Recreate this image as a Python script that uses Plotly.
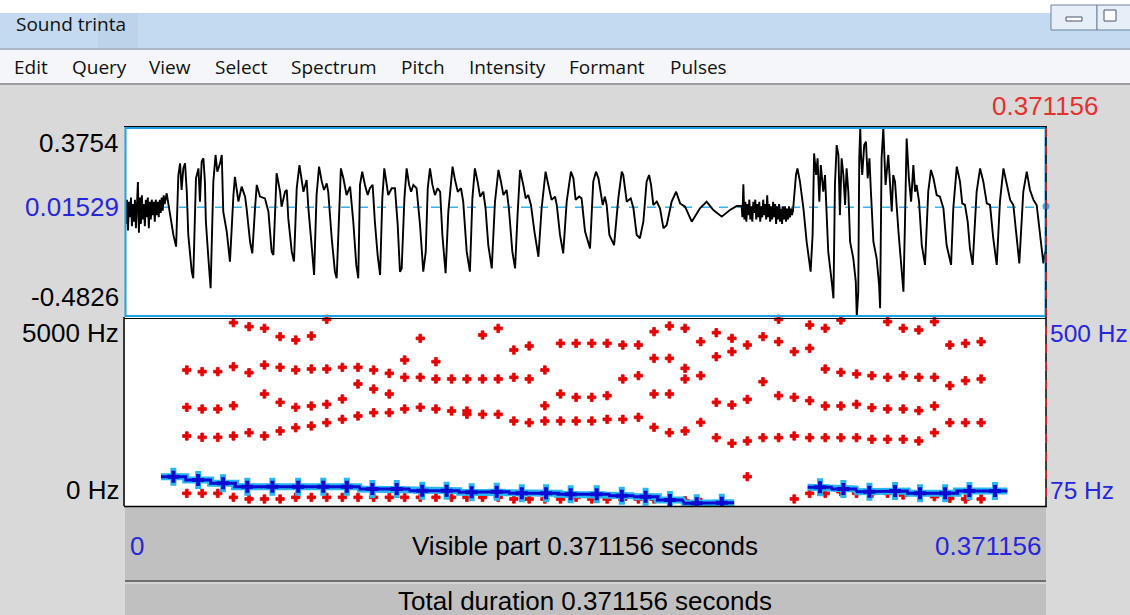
import plotly.graph_objects as go

W, H = 1130, 615
T_END = 0.371156          # seconds
AMP_MAX, AMP_MIN, AMP_MID = 0.3754, -0.4826, 0.01529
F_MAX = 5000
P_MIN, P_MAX = 75, 500

# ---------------- waveform (time in ms, amplitude) ----------------
wave_onset_noise = [
    (0.0, 0.02), (0.4, -0.06), (0.8, 0.05), (1.2, -0.09), (1.6, 0.04), (2.0, -0.03), (2.4, 0.06),
    (2.8, -0.07), (3.2, 0.03), (3.6, -0.05), (4.0, 0.05), (4.4, -0.08), (4.8, 0.02), (5.2, 0.13),
    (5.6, -0.10), (6.0, 0.06), (6.4, -0.06), (6.8, 0.07), (7.2, -0.04), (7.6, 0.03), (8.0, -0.07),
    (8.4, 0.05), (8.8, -0.03), (9.2, 0.06), (9.6, -0.08), (10.0, 0.04), (10.4, -0.04), (10.8, 0.05),
    (11.2, -0.02), (11.6, 0.04), (12.0, -0.05), (12.4, 0.05), (12.8, -0.02), (13.2, 0.04),
    (13.6, -0.03), (14.0, 0.05), (14.4, -0.01), (14.8, 0.06), (15.2, 0.0), (15.6, 0.07), (16.0, 0.03),
]
wave_vowel_1 = [
    (16.8, 0.079), (19.5, -0.110), (20.6, -0.163), (21.5, 0.162), (22.2, 0.215), (22.8, 0.094),
    (23.5, 0.192), (24.2, 0.215), (24.9, 0.086), (25.5, -0.110), (26.9, -0.277), (27.5, -0.307),
    (28.6, 0.147), (29.6, 0.192), (30.2, 0.041), (30.9, 0.223), (31.6, 0.238), (32.2, 0.132),
    (32.6, -0.050), (33.6, -0.216), (34.5, -0.352), (35.6, 0.132), (36.5, 0.253), (37.2, 0.177),
    (38.3, 0.215), (39.0, 0.253), (39.6, -0.004), (41.0, -0.095), (42.3, -0.231), (43.7, 0.071),
    (44.3, 0.154), (45.7, 0.041), (47.0, 0.109), (48.4, 0.064), (49.0, 0.011), (50.4, -0.141),
    (51.3, -0.194), (52.4, 0.011), (53.1, 0.117), (54.4, 0.064), (56.4, 0.056), (57.8, -0.004),
    (59.1, -0.186), (59.8, -0.201), (60.4, 0.011), (61.1, 0.170), (62.5, 0.086), (63.1, 0.018),
    (64.5, 0.086), (65.2, 0.094), (65.8, -0.035), (67.2, -0.186), (68.1, -0.231), (69.2, 0.102),
    (70.3, 0.207), (71.2, 0.147), (71.9, 0.086), (73.2, 0.139), (73.9, 0.011), (75.2, -0.156),
    (76.2, -0.292), (77.2, 0.071), (78.2, 0.200), (79.3, 0.132), (80.2, 0.094), (81.3, 0.124),
    (81.9, 0.086), (83.3, -0.125), (84.6, -0.277), (85.3, -0.307), (86.4, 0.086), (87.0, 0.192),
    (88.0, 0.147), (89.3, 0.071), (90.7, 0.109), (92.0, -0.050), (93.2, -0.246), (94.0, -0.307),
    (94.7, 0.117), (95.6, 0.177), (96.7, 0.117), (97.8, 0.071), (98.7, 0.102), (99.8, 0.117),
    (100.7, -0.050), (101.8, -0.201), (102.8, -0.292), (103.7, 0.056), (104.5, 0.192), (105.5, 0.117),
    (106.1, 0.071), (107.5, 0.102), (108.8, 0.102), (109.9, -0.065), (110.8, -0.277), (111.5, -0.262),
    (112.6, 0.056), (113.5, 0.192), (114.5, 0.117), (115.3, 0.086), (116.2, 0.117), (117.5, 0.102),
    (118.9, -0.065), (120.2, -0.277), (121.2, -0.186), (122.0, 0.102), (122.9, 0.192), (123.9, 0.117),
    (124.9, 0.071), (126.0, 0.102), (127.0, 0.086), (127.9, -0.110), (129.2, -0.284), (130.3, -0.004),
    (131.4, 0.132), (132.0, 0.200), (133.0, 0.139), (134.1, 0.086), (135.4, 0.102), (136.3, 0.041),
    (137.7, -0.186), (139.0, -0.277), (140.0, 0.056), (141.0, 0.192), (142.1, 0.132), (143.1, 0.064),
    (144.4, 0.086), (145.3, 0.011), (146.4, -0.156), (147.8, -0.262), (149.1, 0.041), (150.5, 0.185),
    (151.5, 0.132), (152.5, 0.071), (153.8, 0.094), (154.7, 0.011), (156.1, -0.186), (157.2, -0.262),
    (158.2, -0.020), (159.2, 0.185), (160.5, 0.117), (161.5, 0.056), (162.5, 0.071), (163.6, 0.026),
    (165.0, -0.095), (166.6, -0.209), (167.9, 0.011), (169.5, 0.177), (170.6, 0.117), (171.9, 0.049),
    (173.3, 0.064), (174.0, 0.026), (175.3, -0.110), (176.6, -0.194), (178.0, 0.041), (179.7, 0.177),
    (180.7, 0.147), (181.6, 0.049), (183.0, 0.064), (184.0, 0.056), (185.4, -0.095), (187.4, -0.171),
    (188.7, 0.132), (189.8, 0.177), (190.8, 0.147), (192.5, 0.026), (193.4, 0.064), (194.1, 0.026),
    (195.2, -0.110), (197.1, -0.156), (198.8, 0.056), (200.2, 0.177), (200.8, 0.162), (202.2, 0.041),
    (203.8, 0.056), (204.9, 0.011), (206.2, -0.110), (207.5, -0.125), (208.9, -0.050), (210.2, 0.132),
    (211.2, 0.162), (212.0, 0.117), (212.9, 0.026), (214.3, 0.041), (215.6, 0.011), (217.0, -0.080),
    (218.3, -0.065), (220.3, 0.041), (222.1, 0.086), (223.7, 0.033), (225.7, 0.018), (228.4, -0.050),
    (231.7, 0.011), (234.4, 0.041), (237.1, 0.003), (240.5, -0.027), (243.8, 0.003), (246.5, 0.021),
    (248.5, 0.021),
]
wave_mid_noise = [
    (248.8, -0.03), (249.2, 0.12), (249.6, -0.04), (250.0, 0.04), (250.4, -0.05), (250.8, 0.03),
    (251.2, -0.02), (251.6, 0.05), (252.0, -0.04), (252.4, 0.02), (252.8, -0.05), (253.2, 0.04),
    (253.6, -0.01), (254.0, 0.05), (254.4, -0.04), (254.8, 0.03), (255.2, -0.03), (255.6, 0.04),
    (256.0, -0.05), (256.4, 0.02), (256.8, -0.03), (257.2, 0.05), (257.6, -0.02), (258.0, 0.03),
    (258.4, -0.04), (258.8, 0.07), (259.2, -0.03), (259.6, 0.03), (260.0, -0.05), (260.4, 0.02),
    (260.8, -0.04), (261.2, 0.04), (261.6, -0.03), (262.0, 0.03), (262.4, -0.06), (262.8, 0.02),
    (263.2, -0.04), (263.6, 0.03), (264.0, -0.05), (264.4, 0.01), (264.8, -0.06), (265.2, 0.02),
    (265.6, -0.04), (266.0, 0.02), (266.4, -0.05), (266.8, 0.01), (267.2, -0.04), (267.6, 0.02),
    (268.0, -0.03), (268.4, 0.01), (268.8, -0.02), (269.2, 0.00),
]
wave_vowel_2 = [
    (270.4, 0.162), (271.0, 0.192), (272.0, 0.132), (273.4, 0.011), (274.7, -0.141), (276.3, -0.277),
    (277.1, -0.110), (277.7, 0.260), (278.5, 0.162), (279.1, 0.238), (279.8, 0.041), (280.4, 0.207),
    (281.4, 0.086), (282.1, 0.162), (283.4, -0.186), (284.8, -0.322), (285.5, -0.398), (286.1, 0.117),
    (286.8, 0.298), (287.5, 0.253), (288.1, -0.020), (288.8, 0.238), (289.5, 0.162), (290.2, 0.026),
    (290.8, 0.192), (291.5, 0.086), (292.2, -0.141), (293.5, -0.216), (294.5, -0.322), (294.9, -0.481),
    (295.5, -0.368), (295.9, 0.238), (296.3, 0.375), (296.6, 0.253), (297.1, 0.162), (297.9, 0.298),
    (298.6, 0.313), (299.3, 0.147), (300.0, 0.238), (300.6, 0.086), (301.6, -0.141), (302.9, -0.216),
    (303.9, -0.337), (304.3, -0.443), (304.9, 0.238), (305.6, 0.375), (306.0, 0.268), (306.5, 0.117),
    (307.6, 0.253), (308.3, 0.117), (309.0, -0.004), (309.6, 0.162), (310.3, 0.132), (311.7, -0.095),
    (312.7, -0.246), (313.7, -0.368), (314.3, -0.065), (315.0, 0.328), (315.9, 0.147), (316.8, 0.041),
    (317.7, 0.207), (318.4, 0.086), (319.0, 0.117), (320.0, 0.041), (321.1, -0.156), (322.4, -0.246),
    (323.7, 0.086), (324.8, 0.185), (325.8, 0.147), (327.1, 0.071), (328.4, 0.064), (329.8, 0.011),
    (331.1, -0.156), (332.9, -0.246), (333.8, 0.011), (335.2, 0.200), (336.5, 0.132), (337.4, 0.033),
    (338.5, 0.026), (339.6, -0.050), (340.5, -0.171), (341.6, -0.246), (343.2, 0.086), (344.6, 0.192),
    (345.9, 0.132), (347.3, 0.033), (348.6, 0.026), (349.9, -0.125), (351.3, -0.246), (352.6, 0.041),
    (354.0, 0.192), (355.3, 0.124), (356.7, 0.049), (358.0, 0.026), (359.3, -0.110), (360.4, -0.239),
    (362.0, 0.086), (363.4, 0.177), (364.7, 0.094), (366.1, 0.049), (367.4, 0.026), (368.7, -0.095),
    (370.1, -0.239), (370.8, -0.186),
]

# ---------------- formants (frame times in ms, Hz) ----------------
formant_t_ms = [
    24.9, 31.1, 37.4, 43.7, 50.0, 56.2, 62.5, 68.8, 75.1, 81.3,
    87.6, 93.9, 100.2, 106.5, 112.7, 119.0, 125.3, 131.6, 137.8, 144.1,
    150.4, 156.7, 162.9, 169.2, 175.5, 181.8, 188.1, 194.3, 200.6, 206.9,
    213.2, 219.4, 225.7, 232.0, 238.3, 244.6, 250.8, 257.1, 263.4, 269.7,
    275.9, 282.2, 288.5, 294.8, 301.0, 307.3, 313.6, 319.9, 326.2, 332.4,
    338.7, 345.0,
]
F1 = [335, 335, 335, 229, 185, 185, 185, 229, 229, 229,
      229, 229, 229, 229, 229, 229, 229, 229, 229, 229,
      229, 185, 185, 185, 185, 229, 185, 185, 185, 185,
      185, 185, 141, 97, None, None, 776, None, None, 185,
      335, 335, 379, 335, 335, 335, 291, 335, 247, 203,
      185, 185]
F2 = [1852, 1817, 1817, 1852, 1940, 1852, 1984, 2072, 2116, 2205,
      2293, 2381, 2469, 2469, 2566, 2610, 2566, 2513, 2425, 2425,
      2425, 2249, 2205, 2249, 2249, 2249, 2249, 2293, 2293, 2346,
      2081, 1940, 1984, 2213, 1808, 1658, 1720, 1808, 1808, 1852,
      1808, 1808, 1808, 1808, 1764, 1764, 1764, 1720, 1940, 2205,
      2205, 2205]
F3 = [2610, 2566, 2566, 2654, 3527, 2963, 2742, 2610, 2645, 2690,
      2831, 3227, 3095, 2963, 3404, 3404, 3360, 3360, 2513, 3360,
      3360, 3404, 3360, 2654, 2963, 2875, 2875, 2919, 3360, 3448,
      2963, 2963, 3360, 3448, 2742, 2672, 2822, 3289, 2919, 2875,
      2786, 2645, 2645, 2690, 2601, 2566, 2566, 2522, 2645, 3183,
      3316, 3360]
F4 = [3598, 3554, 3554, 3686, 4744, 3730, 3668, 3598, 3624, 3624,
      3668, 3668, 3598, 3510, 3862, 4435, 3818, None, 3360, 4524,
      4700, 4127, 4233, 3598, 4303, 4303, 4303, 4303, 4259, 4259,
      3906, 3906, 3642, 4347, 3950, 4083, 4259, 4480, 4347, 4083,
      4171, 3624, 3536, 3492, 3448, 3404, 3448, 3404, 3404, 4259,
      4303, 4347]
F5 = [None, None, None, 4850, None, 4700, 4480, 4391, 4497, 4938,
      None, None, None, None, None, None, None, None, None, None,
      None, None, None, 5026, None, None, None, None, None, None,
      4612, 4762, 4700, None, 4585, 4435, None, None, 4938, 5053,
      4788, 4700, 4920, None, None, 4876, 4700, 4656, 4876, None,
      None, None]

# ---------------- pitch (two voiced stretches; ms, Hz) ----------------
pitch1_t_ms = [19.5, 29.5, 39.5, 49.3, 59.4, 69.8, 79.9, 89.4, 99.7, 109.5, 119.8, 129.6,
               139.7, 149.8, 159.9, 169.7, 179.6, 190.1, 200.2, 209.8, 219.6, 230.4, 240.5]
pitch1_hz = [140.9, 133.5, 126.0, 118.4, 118.4, 118.4, 118.4, 118.4, 113.2, 113.2, 109.4, 109.4,
             105.8, 107.2, 103.6, 103.6, 101.3, 101.3, 98.2, 95.9, 88.5, 81.1, 82.4]
pitch2_t_ms = [280.1, 289.5, 300.0, 310.3, 320.4, 330.5, 340.3, 350.6]
pitch2_hz = [117.1, 113.2, 107.2, 108.7, 103.6, 103.6, 108.7, 108.7]
PITCH_STEP_MS = 10.0

# cursor value marker at the end of the waveform
cursor_amp = 0.02

# ---------------- helpers (layout positions only) ----------------
def px(x):
    return x / W


def py(y):
    return 1 - y / H


def join(*segs):
    xs, ys = [], []
    for s in segs:
        for t, a in s:
            xs.append(t / 1000.0)
            ys.append(a)
    return xs, ys


wx, wy = join(wave_onset_noise, wave_vowel_1, wave_mid_noise, wave_vowel_2)

# formant scatter
fx, fy = [], []
for series in (F1, F2, F3, F4, F5):
    for t, v in zip(formant_t_ms, series):
        if v is not None:
            fx.append(t / 1000.0)
            fy.append(v)

# pitch as per-frame horizontal steps
def steps(ts, vs):
    xs, ys = [], []
    for t, v in zip(ts, vs):
        xs += [(t - PITCH_STEP_MS / 2) / 1000.0, (t + PITCH_STEP_MS / 2) / 1000.0]
        ys += [v, v]
    return xs, ys


s1x, s1y = steps(pitch1_t_ms, pitch1_hz)
s2x, s2y = steps(pitch2_t_ms, pitch2_hz)
plx = s1x + [None] + s2x
ply = s1y + [None] + s2y
pmx = [t / 1000.0 for t in pitch1_t_ms + pitch2_t_ms]
pmy = pitch1_hz + pitch2_hz

fig = go.Figure()

fig.add_trace(go.Scatter(x=wx, y=wy, mode="lines", xaxis="x", yaxis="y",
                         line=dict(color="#000000", width=1.9), hoverinfo="skip"))
fig.add_trace(go.Scatter(x=[T_END], y=[cursor_amp], mode="markers", xaxis="x", yaxis="y",
                         marker=dict(color="#2ab0f0", size=7), cliponaxis=False, hoverinfo="skip"))

fig.add_trace(go.Scatter(x=fx, y=fy, mode="markers", xaxis="x2", yaxis="y2", cliponaxis=False,
                         marker=dict(symbol="cross", color="#e60000", size=7,
                                     line=dict(width=0.8, color="#e60000")),
                         hoverinfo="skip"))

fig.add_trace(go.Scatter(x=plx, y=ply, mode="lines", xaxis="x2", yaxis="y3",
                         line=dict(color="#29b6f2", width=7), connectgaps=False, hoverinfo="skip"))
fig.add_trace(go.Scatter(x=pmx, y=pmy, mode="markers", xaxis="x2", yaxis="y3",
                         marker=dict(symbol="cross", color="#29b6f2", size=15), hoverinfo="skip"))
fig.add_trace(go.Scatter(x=plx, y=ply, mode="lines", xaxis="x2", yaxis="y3",
                         line=dict(color="#0a0ad2", width=3), connectgaps=False, hoverinfo="skip"))
fig.add_trace(go.Scatter(x=pmx, y=pmy, mode="markers", xaxis="x2", yaxis="y3",
                         marker=dict(symbol="cross", color="#0a0ad2", size=10), hoverinfo="skip"))

XL, XR = 125, 1046
WT, WB = 128, 317
FT, FB = 317, 506

hidden = dict(visible=False, showgrid=False, zeroline=False, fixedrange=True)
layout = dict(
    width=W, height=H, margin=dict(l=0, r=0, t=0, b=0),
    paper_bgcolor="#d9d9d9", plot_bgcolor="rgba(0,0,0,0)", showlegend=False,
    xaxis=dict(domain=[px(XL), px(XR)], range=[0, T_END], anchor="y", **hidden),
    yaxis=dict(domain=[py(WB), py(WT)], range=[AMP_MIN, AMP_MAX], anchor="x", **hidden),
    xaxis2=dict(domain=[px(XL), px(XR)], range=[0, T_END], anchor="y2", **hidden),
    yaxis2=dict(domain=[py(FB), py(FT)], range=[0, F_MAX], anchor="x2", **hidden),
    yaxis3=dict(range=[P_MIN, P_MAX], overlaying="y2", anchor="x2", side="right", **hidden),
)
fig.update_layout(**layout)


def rect(x0, y0, x1, y1, fill, line=None, lw=0, layer="below"):
    d = dict(type="rect", xref="paper", yref="paper", x0=px(x0), x1=px(x1), y0=py(y1), y1=py(y0),
             fillcolor=fill, layer=layer, line=dict(width=lw, color=line or fill))
    return d


def hline(x0, x1, y, color, w=1, dash="solid", layer="above"):
    return dict(type="line", xref="paper", yref="paper", x0=px(x0), x1=px(x1), y0=py(y), y1=py(y),
                line=dict(color=color, width=w, dash=dash), layer=layer)


def vline(x, y0, y1, color, w=1, dash="solid", layer="above"):
    return dict(type="line", xref="paper", yref="paper", x0=px(x), x1=px(x), y0=py(y0), y1=py(y1),
                line=dict(color=color, width=w, dash=dash), layer=layer)


shapes = [
    rect(0, 0, W, 13, "#ffffff"),
    rect(0, 13, W, 48, "#c3daf0"),
    rect(98, 13, 138, 48, "#bdd3e9"),
    rect(0, 48, W, 50, "#a9b7c6"),
    rect(0, 50, W, 83, "#f4f6f9"),
    rect(0, 83, W, 85, "#9c9c9c"),
    # panels
    rect(XL, WT, XR, WB, "#ffffff"),
    rect(XL, FT, XR, FB, "#ffffff"),
    # bottom bars
    rect(XL, FB, XR, 580, "#c0c0c0"),
    rect(XL, 580, XR, 582, "#6e6e6e"),
    rect(XL, 582, XR, 584, "#d4d4d4"),
    rect(XL, 584, XR, H, "#c0c0c0"),
    # window buttons
    rect(1051, 5, 1097, 30, "#e6eef8", "#6f8199", 1, "above"),
    rect(1066, 17, 1082, 21, "#ffffff", "#4a5566", 1, "above"),
    rect(1097, 5, 1134, 30, "#e6eef8", "#6f8199", 1, "above"),
    rect(1104, 10, 1116, 21, "#ffffff", "#4a5566", 1, "above"),
    # dashed zero line of the waveform
    dict(type="line", xref="paper", yref="y", x0=px(XL), x1=px(XR), y0=AMP_MID, y1=AMP_MID,
         line=dict(color="#35b4ee", width=1.6, dash="dash"), layer="below"),
    # borders
    hline(XL - 1, XR + 1, 126.5, "#000000", 1.2),
    rect(XL + 0.5, WT, XR - 0.5, WB - 1, "rgba(0,0,0,0)", "#1ba3e6", 2, "above"),
    hline(XL - 1, XR, FT + 1.5, "#000000", 1.2),
    vline(XL - 1, FT, FB, "#000000", 1.5),
    hline(XL - 1, XR + 1, FB + 0.5, "#000000", 1.5),
    vline(XR, 126, FB, "#000000", 1.5),
    vline(XR, 128, FB, "#ff2020", 1.5, "dash"),
]
fig.update_layout(shapes=shapes)

ARIAL = "Liberation Sans, Arial, sans-serif"
UI = "Open Sans, Noto Sans, sans-serif"
BLUE = "#2626dc"
RED = "#e53030"


def text(x, y, s, size, color="#000000", anchor="left", family=ARIAL):
    return dict(x=px(x), y=py(y), xref="paper", yref="paper", text=s, showarrow=False,
                xanchor=anchor, yanchor="middle", font=dict(family=family, size=size, color=color))


ann = [
    text(14, 24, "Sound trinta", 19, "#111111", family=UI),
]
menu_items = ["Edit", "Query", "View", "Select", "Spectrum", "Pitch", "Intensity", "Formant", "Pulses"]
menu_x = [12, 70, 147, 213, 289, 399, 467, 567, 668]
for m, mx in zip(menu_items, menu_x):
    ann.append(text(mx, 67, m, 19, "#111111", family=UI))

ann += [
    text(1101, 106, "0.371156", 26, RED, "right"),
    text(121, 143, "0.3754", 26, "#000000", "right"),
    text(121, 207, "0.01529", 26, BLUE, "right"),
    text(121, 297, "-0.4826", 26, "#000000", "right"),
    text(121, 333, "5000 Hz", 26, "#000000", "right"),
    text(121, 490, "0 Hz", 26, "#000000", "right"),
    text(1048, 333, "500 Hz", 24.5, BLUE, "left"),
    text(1048, 490, "75 Hz", 24.5, BLUE, "left"),
    text(128, 546, "0", 26, BLUE, "left"),
    text(585, 546, "Visible part 0.371156 seconds", 26, "#000000", "center"),
    text(1044, 546, "0.371156", 26, BLUE, "right"),
    text(585, 601, "Total duration 0.371156 seconds", 26, "#000000", "center"),
]
fig.update_layout(annotations=ann)

fig.write_html("out.html")
